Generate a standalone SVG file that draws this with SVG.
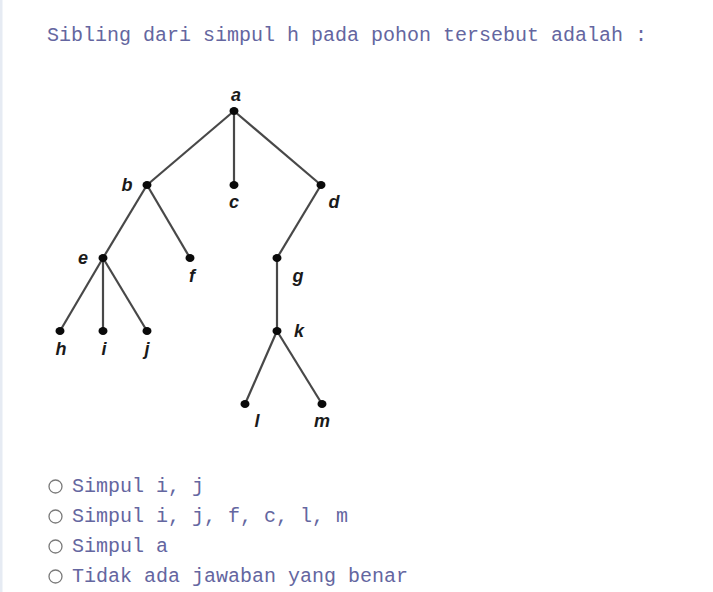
<svg xmlns="http://www.w3.org/2000/svg" width="713" height="592" viewBox="0 0 713 592">
<style>
.q{font-family:"Liberation Mono","Courier New",monospace;font-size:20px;fill:#6466a0}
.lbl{font-family:"Liberation Sans",Arial,sans-serif;font-size:18px;font-weight:bold;font-style:italic;fill:#1a1a1a;text-anchor:middle}
.e{stroke:#484848;stroke-width:2.2;fill:none}
.dot{fill:#0a0a0a}
.rb{fill:#fff;stroke:#7a7a7a;stroke-width:1.3}
</style>
<rect x="0" y="0" width="713" height="592" fill="#fff"/>
<rect x="0" y="0" width="2.5" height="592" fill="#e6ebf3"/>
<text class="q" x="47" y="41">Sibling dari simpul h pada pohon tersebut adalah :</text>
<g id="connectors">
<line class="e" x1="234" y1="111" x2="147" y2="185"/>
<line class="e" x1="234" y1="111" x2="234" y2="185"/>
<line class="e" x1="234" y1="111" x2="321" y2="185"/>
<line class="e" x1="147" y1="185" x2="103" y2="258"/>
<line class="e" x1="147" y1="185" x2="190" y2="258"/>
<line class="e" x1="321" y1="185" x2="277" y2="258"/>
<line class="e" x1="103" y1="258" x2="60" y2="331"/>
<line class="e" x1="103" y1="258" x2="103" y2="331"/>
<line class="e" x1="103" y1="258" x2="147" y2="331"/>
<line class="e" x1="277" y1="258" x2="277" y2="331"/>
<line class="e" x1="277" y1="331" x2="245" y2="404"/>
<line class="e" x1="277" y1="331" x2="322" y2="404"/>
</g>
<g id="node-a"><ellipse class="dot" cx="234" cy="111" rx="4.5" ry="4"/><text class="lbl" x="236" y="101">a</text></g>
<g id="node-b"><ellipse class="dot" cx="147" cy="185" rx="4.5" ry="4"/><text class="lbl" x="127" y="191">b</text></g>
<g id="node-c"><ellipse class="dot" cx="234" cy="185" rx="4.5" ry="4"/><text class="lbl" x="234" y="208">c</text></g>
<g id="node-d"><ellipse class="dot" cx="321" cy="185" rx="4.5" ry="4"/><text class="lbl" x="334" y="208">d</text></g>
<g id="node-e"><ellipse class="dot" cx="103" cy="258" rx="4.5" ry="4"/><text class="lbl" x="83" y="264">e</text></g>
<g id="node-f"><ellipse class="dot" cx="190" cy="258" rx="4.5" ry="4"/><text class="lbl" x="192" y="282">f</text></g>
<g id="node-g"><ellipse class="dot" cx="277" cy="258" rx="4.5" ry="4"/><text class="lbl" x="298" y="282">g</text></g>
<g id="node-h"><ellipse class="dot" cx="60" cy="331" rx="4.5" ry="4"/><text class="lbl" x="61" y="355">h</text></g>
<g id="node-i"><ellipse class="dot" cx="103" cy="331" rx="4.5" ry="4"/><text class="lbl" x="104" y="355">i</text></g>
<g id="node-j"><ellipse class="dot" cx="147" cy="331" rx="4.5" ry="4"/><text class="lbl" x="147" y="355">j</text></g>
<g id="node-k"><ellipse class="dot" cx="277" cy="331" rx="4.5" ry="4"/><text class="lbl" x="299" y="337">k</text></g>
<g id="node-l"><ellipse class="dot" cx="245" cy="404" rx="4.5" ry="4"/><text class="lbl" x="257" y="427">l</text></g>
<g id="node-m"><ellipse class="dot" cx="322" cy="404" rx="4.5" ry="4"/><text class="lbl" x="322" y="427">m</text></g>
<g id="options">
<circle class="rb" cx="55.5" cy="486.5" r="6.5"/><text class="q" x="72" y="492">Simpul i, j</text>
<circle class="rb" cx="55.5" cy="516.5" r="6.5"/><text class="q" x="72" y="522">Simpul i, j, f, c, l, m</text>
<circle class="rb" cx="55.5" cy="546.5" r="6.5"/><text class="q" x="72" y="552">Simpul a</text>
<circle class="rb" cx="55.5" cy="576.5" r="6.5"/><text class="q" x="72" y="582">Tidak ada jawaban yang benar</text>
</g>
</svg>
